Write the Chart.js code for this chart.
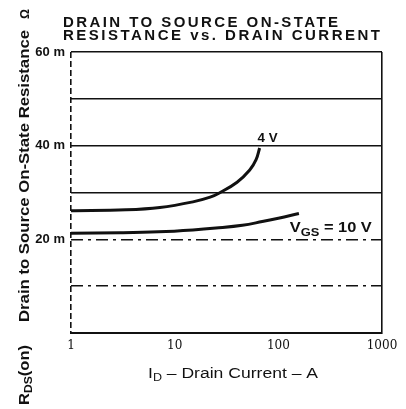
<!DOCTYPE html>
<html><head><meta charset="utf-8">
<script src="https://cdn.jsdelivr.net/npm/chart.js@4/dist/chart.umd.min.js"></script>
<style>html,body{margin:0;padding:0;background:#fff}#wrap{width:406px;height:409px;position:relative;background:#fff}</style>
</head><body><div id="wrap"><canvas id="c" width="406" height="409"></canvas></div>
<script>
// Drain current (A) and on-state resistance (mΩ)
const current4V = [1, 3.4, 7.2, 15, 22, 27, 40, 53, 61, 66];
const rds4V = [26.1, 26.3, 26.8, 28.0, 29.0, 29.9, 32.2, 34.8, 37.0, 39.5];
const current10V = [1, 3, 7, 15, 25, 45, 70, 100, 158];
const rds10V = [21.3, 21.4, 21.6, 22.0, 22.4, 23.0, 23.8, 24.5, 25.5];
const xTickLabels = [1, 10, 100, 1000];
const yTickLabels = [20, 40, 60];
const dashedGridValues = [10, 20];

const INK = '#111';

function toPoints(xs, ys) { return xs.map((x, i) => ({ x: x, y: ys[i] })); }

// draw a run of text parts, horizontally fitted to a target width
function drawRich(ctx, parts, x, y, target, align) {
  let w = 0;
  parts.forEach(p => { ctx.font = p.font; p.w = ctx.measureText(p.t).width; w += p.w; });
  const s = target ? target / w : 1;
  ctx.save();
  ctx.translate(x, y);
  if (align === 'center') ctx.translate(-w * s / 2, 0);
  ctx.scale(s, 1);
  let cx = 0;
  ctx.textAlign = 'left';
  ctx.textBaseline = 'alphabetic';
  parts.forEach(p => { ctx.font = p.font; ctx.fillText(p.t, cx, p.dy || 0); cx += p.w; });
  ctx.restore();
}

function drawSpaced(ctx, text, x, y, target, font) {
  ctx.save();
  ctx.font = font;
  ctx.textAlign = 'left';
  ctx.textBaseline = 'alphabetic';
  const w = ctx.measureText(text).width;
  const sp = (target - w) / (text.length - 1);
  if ('letterSpacing' in ctx) {
    ctx.letterSpacing = sp + 'px';
    ctx.fillText(text, x, y);
  } else {
    let cx = x;
    for (const ch of text) { ctx.fillText(ch, cx, y); cx += ctx.measureText(ch).width + sp; }
  }
  ctx.restore();
}

const textPlugin = {
  id: 'texts',
  afterDraw(chart) {
    const ctx = chart.ctx;
    const xs = chart.scales.x, ys = chart.scales.y;
    ctx.save();
    ctx.fillStyle = INK;
    // title
    drawSpaced(ctx, 'DRAIN TO SOURCE ON-STATE', 63, 27, 275, 'bold 15px "Liberation Sans", Arial, sans-serif');
    drawSpaced(ctx, 'RESISTANCE vs. DRAIN CURRENT', 63, 40, 317, 'bold 15px "Liberation Sans", Arial, sans-serif');

    // y axis title (rotated)
    const fB = 'bold 15px "Liberation Sans", Arial, sans-serif';
    const fBs = 'bold 11px "Liberation Sans", Arial, sans-serif';
    ctx.save();
    ctx.translate(29, 322);
    ctx.rotate(-Math.PI / 2);
    drawRich(ctx, [{ t: 'Drain to Source On-State Resistance', font: fB }], 0, 0, 292);
    ctx.restore();
    ctx.save();
    ctx.translate(29, 19);
    ctx.rotate(-Math.PI / 2);
    drawRich(ctx, [{ t: 'Ω', font: 'bold 13px "Liberation Sans", Arial, sans-serif' }], 0, 0, 10);
    ctx.restore();
    ctx.save();
    ctx.translate(29, 405);
    ctx.rotate(-Math.PI / 2);
    drawRich(ctx, [{ t: 'R', font: fB }, { t: 'DS', font: fBs, dy: 3 }, { t: '(on)', font: fB }], 0, 0, 60);
    ctx.restore();

    // x axis title
    const fN = '500 14px "Liberation Sans", Arial, sans-serif';
    const fNs = '500 10px "Liberation Sans", Arial, sans-serif';
    drawRich(ctx, [{ t: 'I', font: fN }, { t: 'D', font: fNs, dy: 3 }, { t: ' \u2013 Drain Current \u2013 A', font: fN }], 148, 378, 170);

    // curve labels, placed in data coordinates
    const f13 = 'bold 13px "Liberation Sans", Arial, sans-serif';
    drawRich(ctx, [{ t: '4 V', font: f13 }], xs.getPixelForValue(63), ys.getPixelForValue(40.8), 20);
    drawRich(ctx, [{ t: 'V', font: 'bold 14px "Liberation Sans", Arial, sans-serif' },
                   { t: 'GS', font: 'bold 11px "Liberation Sans", Arial, sans-serif', dy: 4 },
                   { t: ' = 10 V', font: 'bold 14px "Liberation Sans", Arial, sans-serif' }],
             xs.getPixelForValue(129), ys.getPixelForValue(21.6), 82);
    ctx.restore();
  }
};

new Chart(document.getElementById('c'), {
  type: 'line',
  data: {
    datasets: [
      { label: '4 V', data: toPoints(current4V, rds4V), borderColor: INK, borderWidth: 3, pointRadius: 0, fill: false, tension: 0.4 },
      { label: 'VGS = 10 V', data: toPoints(current10V, rds10V), borderColor: INK, borderWidth: 3, pointRadius: 0, fill: false, tension: 0.4 }
    ]
  },
  options: {
    responsive: false,
    animation: false,
    devicePixelRatio: 1,
    layout: { padding: { top: 52, right: 24, left: 0, bottom: 0 } },
    plugins: { legend: { display: false }, title: { display: false }, tooltip: { enabled: false } },
    scales: {
      x: {
        type: 'logarithmic', min: 1, max: 1000, position: 'bottom',
        afterFit: s => { s.height = 76; },
        grid: {
          drawTicks: false,
          lineWidth: 1.6,
          color: c => (c.tick && (c.tick.value === 1 || c.tick.value === 1000)) ? INK : 'rgba(0,0,0,0)'
        },
        border: { display: true, color: INK, width: 2, dash: c => (c.tick && c.tick.value === 1) ? [6, 3] : [] },
        ticks: {
          autoSkip: false, maxRotation: 0, padding: 6, color: INK,
          font: { family: '"DejaVu Serif", serif', size: 12 },
          callback: v => xTickLabels.includes(v) ? String(v) : ''
        }
      },
      y: {
        type: 'linear', min: 0, max: 60,
        afterFit: s => { s.width = 71; },
        grid: { drawTicks: false, lineWidth: 1.6, color: INK },
        border: { display: false, dash: c => (c.tick && dashedGridValues.includes(c.tick.value)) ? [12, 5, 3, 5] : [] },
        ticks: {
          stepSize: 10, padding: 6, color: INK,
          font: { family: '"Liberation Sans", Arial, sans-serif', size: 13, weight: 'bold' },
          callback: v => yTickLabels.includes(v) ? v + ' m' : ''
        }
      }
    }
  },
  plugins: [textPlugin]
});
</script>
</body></html>
